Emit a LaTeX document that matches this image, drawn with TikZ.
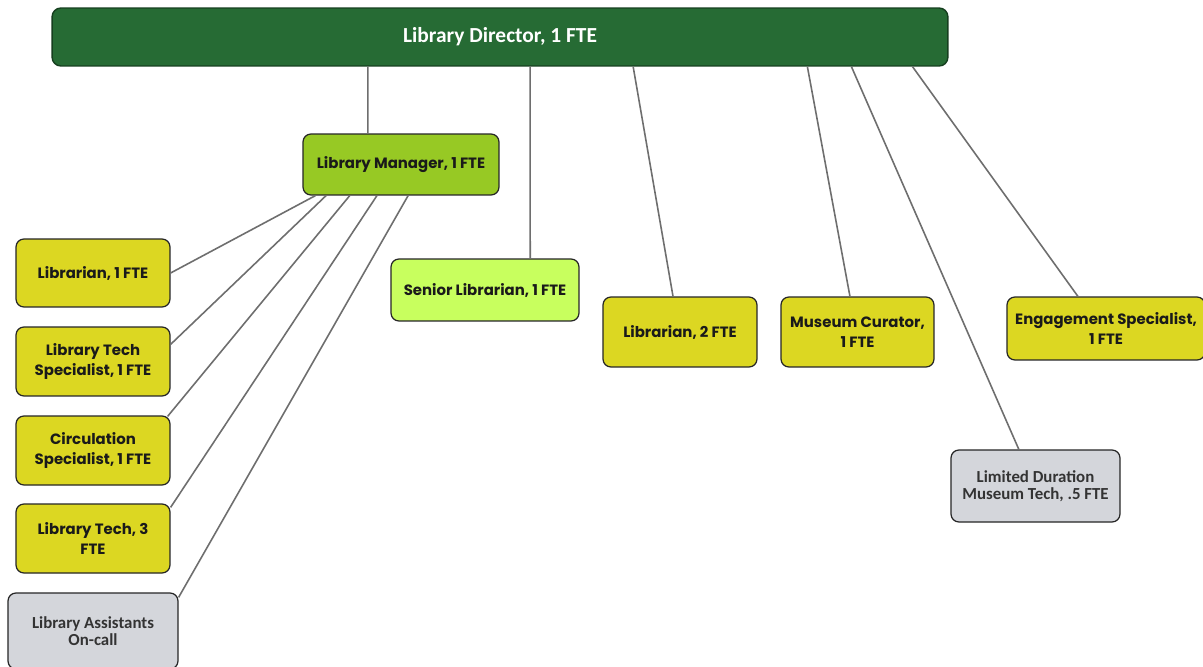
\documentclass[tikz,border=0pt]{standalone}
\usepackage{fontspec}
\setmainfont{Poppins}
\newfontfamily\dirfont{Carlito}
\usetikzlibrary{calc}
\definecolor{dirgreen}{HTML}{266B34}
\definecolor{dirborder}{HTML}{163F1F}
\definecolor{mgrgreen}{HTML}{97C924}
\definecolor{lime}{HTML}{C8FF5E}
\definecolor{ybox}{HTML}{DCD722}
\definecolor{gbox}{HTML}{D4D6DB}
\definecolor{linkgray}{HTML}{6E6E6E}
\definecolor{txtdark}{HTML}{1A1A1A}
\tikzset{
  orgbox/.style={draw=black!85, line width=0.7pt, rounded corners=4.5pt, align=center, inner sep=2pt, text=txtdark, font=\bfseries\fontsize{8.5}{11.3}\selectfont},
  yellowbox/.style={orgbox, fill=ybox},
  graybox/.style={orgbox, fill=gbox, text=black!80, font=\dirfont\bfseries\fontsize{9.6}{9.8}\selectfont},
  link/.style={draw=linkgray, line width=0.9pt}
}
\begin{document}
\begin{tikzpicture}[x=0.02cm,y=-0.02cm]
\clip (0,0) rectangle (1203,666);
\fill[white] (0,0) rectangle (1203,666);
% Director
\node[draw=dirborder, line width=0.8pt, fill=dirgreen, rounded corners=5pt, minimum width=17.92cm, minimum height=1.16cm, text=white, font=\dirfont\bfseries\fontsize{12.2}{14}\selectfont] (dir) at (500,37) {Library Director, 1 FTE};
% Manager
\node[orgbox, fill=mgrgreen, minimum width=3.92cm, minimum height=1.22cm] (mgr) at (401,164.5) {Library Manager, 1 FTE};
% Left column
\node[yellowbox, minimum width=3.08cm, minimum height=1.36cm] (lib1) at (93,273) {Librarian, 1 FTE};
\node[yellowbox, minimum width=3.08cm, minimum height=1.38cm] (lts) at (93,361.5) {Library Tech\\Specialist, 1 FTE};
\node[yellowbox, minimum width=3.08cm, minimum height=1.38cm] (circ) at (93,450.5) {Circulation\\Specialist, 1 FTE};
\node[yellowbox, minimum width=3.08cm, minimum height=1.38cm] (lt3) at (93,538.5) {Library Tech, 3\\FTE};
\node[graybox, minimum width=3.40cm, minimum height=1.52cm] (la) at (93,631) {Library Assistants\\On-call};
% Other direct reports
\node[orgbox, fill=lime, minimum width=3.76cm, minimum height=1.24cm] (sen) at (485,290) {Senior Librarian, 1 FTE};
\node[yellowbox, minimum width=3.08cm, minimum height=1.40cm] (lib2) at (680,332) {Librarian, 2 FTE};
\node[yellowbox, minimum width=3.06cm, minimum height=1.40cm] (cur) at (857.5,332) {Museum Curator,\\1 FTE};
\node[yellowbox, minimum width=3.96cm, minimum height=1.26cm] (eng) at (1106,328.5) {Engagement Specialist,\\1 FTE};
\node[graybox, minimum width=3.38cm, minimum height=1.44cm] (ltd) at (1035.5,486) {Limited Duration\\Museum Tech, .5 FTE};
% Connectors from director
\draw[link] ($(dir.south west)!0.3527!(dir.south east)$) -- ($(mgr.north west)!0.332!(mgr.north east)$);
\draw[link] ($(dir.south west)!0.5335!(dir.south east)$) -- ($(sen.north west)!0.739!(sen.north east)$);
\draw[link] ($(dir.south west)!0.6484!(dir.south east)$) -- ($(lib2.north west)!0.455!(lib2.north east)$);
\draw[link] ($(dir.south west)!0.8426!(dir.south east)$) -- ($(cur.north west)!0.451!(cur.north east)$);
\draw[link] ($(dir.south west)!0.8917!(dir.south east)$) -- ($(ltd.north west)!0.402!(ltd.north east)$);
\draw[link] ($(dir.south west)!0.9598!(dir.south east)$) -- ($(eng.north west)!0.359!(eng.north east)$);
% Connectors from manager
\draw[link] ($(mgr.south west)!0.066!(mgr.south east)$) -- ($(lib1.east)+(0,0)$);
\draw[link] ($(mgr.south west)!0.12!(mgr.south east)$) -- ($(lts.north east)+(0,18)$);
\draw[link] ($(mgr.south west)!0.24!(mgr.south east)$) -- ($(circ.north east)+(-3,1)$);
\draw[link] ($(mgr.south west)!0.378!(mgr.south east)$) -- ($(lt3.north east)+(0,4)$);
\draw[link] ($(mgr.south west)!0.536!(mgr.south east)$) -- ($(la.north east)+(0,5)$);
\end{tikzpicture}
\end{document}
